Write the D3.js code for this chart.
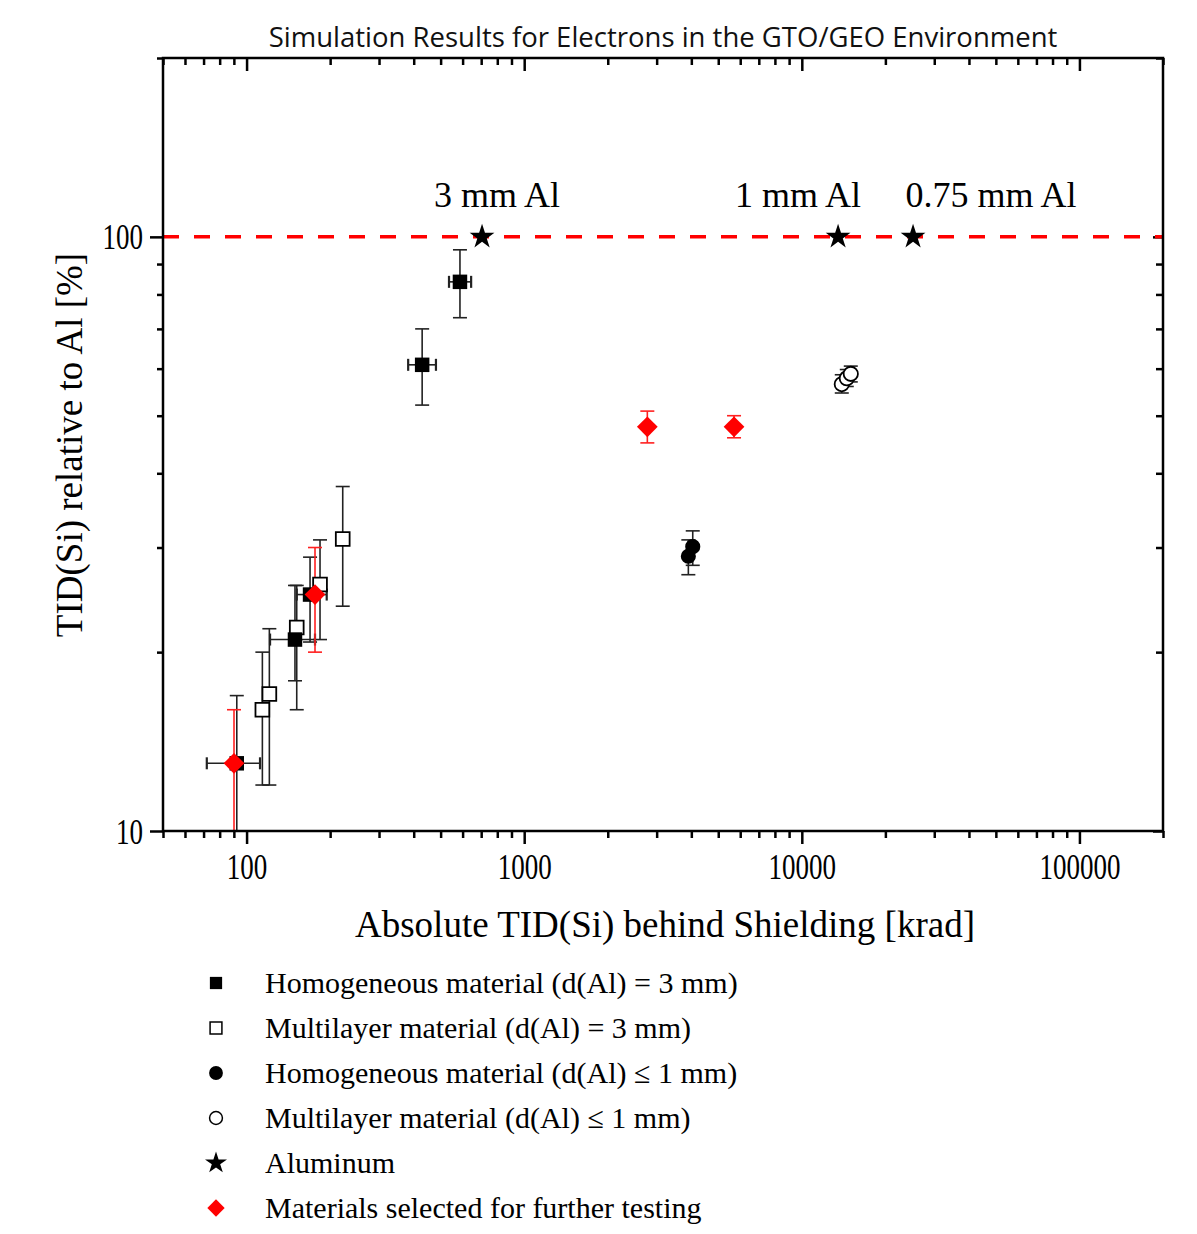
<!DOCTYPE html>
<html>
<head>
<meta charset="utf-8">
<script src="https://cdn.jsdelivr.net/npm/d3@7"></script>
<style>
  body { margin: 0; background: #fff; }
</style>
</head>
<body>
<script>
// Data (x = absolute TID [krad], y = relative TID [%])
var homogeneous3 = [
  {x: 587, y: 84.0, xlo: 536, xhi: 644, ylo: 73.1, yhi: 95.1},
  {x: 429, y: 60.9, xlo: 382, xhi: 481, ylo: 52.1, yhi: 70.0},
  {x: 149.4, y: 21.0, xlo: 121.5, xhi: 176.4, ylo: 17.9, yhi: 25.9},
  {x: 169.3, y: 25.0, xlo: 151.6, xhi: 194.4, ylo: 20.8, yhi: 28.9},
  {x: 92.2, y: 13.0, xlo: 71.9, xhi: 111.8, ylo: 9, yhi: 16.9}
];
var multilayer3 = [
  {x: 114, y: 16.0, ylo: 11.95, yhi: 20.0},
  {x: 120.8, y: 17.0, ylo: 11.95, yhi: 21.9},
  {x: 151.6, y: 22.0, ylo: 16.0, yhi: 25.9},
  {x: 183.9, y: 26.0, ylo: 21.0, yhi: 30.9},
  {x: 222, y: 31.0, ylo: 23.9, yhi: 38.0}
];
var homogeneous1 = [
  {x: 4047, y: 30.1, ylo: 28.0, yhi: 32.0},
  {x: 3902, y: 29.0, ylo: 27.0, yhi: 30.9}
];
var multilayer1 = [
  {x: 13930, y: 56.5, ylo: 54.6, yhi: 58.6},
  {x: 14520, y: 57.8, ylo: 56.0, yhi: 59.8},
  {x: 15010, y: 58.8, ylo: 57.0, yhi: 60.6}
];
var aluminum = [
  {x: 705, y: 100, label: "3 mm Al"},
  {x: 13510, y: 100, label: "1 mm Al"},
  {x: 25160, y: 100, label: "0.75 mm Al"}
];
var selected = [
  {x: 90.1, y: 13.0, ylo: 9, yhi: 16.0},
  {x: 176.4, y: 25.0, ylo: 20.0, yhi: 30.0},
  {x: 2777, y: 47.9, ylo: 45.0, yhi: 50.9},
  {x: 5700, y: 47.9, ylo: 45.9, yhi: 50.0}
];
var legendLabels = [
  "Homogeneous material (d(Al) = 3 mm)",
  "Multilayer material (d(Al) = 3 mm)",
  "Homogeneous material (d(Al) \u2264 1 mm)",
  "Multilayer material (d(Al) \u2264 1 mm)",
  "Aluminum",
  "Materials selected for further testing"
];
var xDomain = [50, 200000];
var yDomain = [10, 200];
var xMajor = [100, 1000, 10000, 100000];
var yMajor = [10, 100];

var serif = "'Liberation Serif', 'Times New Roman', serif";

var svg = d3.select("body")
            .append("svg")
            .attr("width", 1197)
            .attr("height", 1234);

var margin = {top: 58, left: 163},
    width = 1000,
    height = 773;

var x = d3.scaleLog().domain(xDomain).range([0, width]);
var y = d3.scaleLog().domain(yDomain).range([height, 0]);

var g = svg.append("g").attr("transform", "translate(" + margin.left + "," + margin.top + ")");

function isMajor(list) {
  return function(d) { return list.some(function(m) { return Math.abs(m - d) < 1e-6 * m; }); };
}
var xIsMajor = isMajor(xMajor), yIsMajor = isMajor(yMajor);

// Axes
var axisB = g.append("g")
  .attr("transform", "translate(0," + height + ")")
  .call(d3.axisBottom(x).tickSizeInner(7).tickSizeOuter(0)
    .tickFormat(function(d) { return xIsMajor(d) ? d3.format("d")(d) : ""; }));
axisB.selectAll(".tick line").filter(xIsMajor).attr("y2", 13);
// tall, narrow tick digits like the original
axisB.selectAll(".tick text")
  .attr("y", 0).attr("dy", null)
  .attr("transform", "translate(0,48) scale(1,1.35)");

var axisT = g.append("g")
  .call(d3.axisTop(x).tickSizeInner(-7).tickSizeOuter(0).tickFormat(""));
axisT.selectAll(".tick line").filter(xIsMajor).attr("y2", 13);

var axisL = g.append("g")
  .call(d3.axisLeft(y).tickSizeInner(6).tickSizeOuter(0)
    .tickFormat(function(d) { return yIsMajor(d) ? d3.format("d")(d) : ""; }));
axisL.selectAll(".tick line").filter(yIsMajor).attr("x2", -13);
axisL.selectAll(".tick text")
  .attr("x", 0).attr("dy", null)
  .attr("transform", "translate(-20,12) scale(1,1.35)");

var axisR = g.append("g")
  .attr("transform", "translate(" + width + ",0)")
  .call(d3.axisRight(y).tickSizeInner(-7).tickSizeOuter(0).tickFormat(""));
axisR.selectAll(".tick line").filter(yIsMajor).attr("x2", -10);

g.selectAll(".domain").remove();
g.selectAll(".tick line").attr("stroke", "#000").attr("stroke-width", 2.5);
g.selectAll(".tick text")
  .attr("font-family", serif)
  .style("font-family", serif)
  .style("font-size", "27px")
  .attr("fill", "#000");

// Reference line at 100 %
g.append("line")
  .attr("x1", 0).attr("x2", width)
  .attr("y1", y(100)).attr("y2", y(100))
  .attr("stroke", "#ff0000")
  .attr("stroke-width", 3.5)
  .attr("stroke-dasharray", "16,15");

// Error bars
function errorBars(data, color) {
  var eb = g.append("g").attr("stroke", color).attr("stroke-width", 1.6).attr("fill", "none");
  data.forEach(function(d) {
    if (d.ylo !== undefined) {
      var ylo = y(Math.max(d.ylo, yDomain[0])), yhi = y(d.yhi);
      eb.append("line").attr("x1", x(d.x)).attr("x2", x(d.x)).attr("y1", ylo).attr("y2", yhi);
      eb.append("line").attr("x1", x(d.x) - 7).attr("x2", x(d.x) + 7).attr("y1", yhi).attr("y2", yhi);
      if (d.ylo >= yDomain[0])
        eb.append("line").attr("x1", x(d.x) - 7).attr("x2", x(d.x) + 7).attr("y1", ylo).attr("y2", ylo);
    }
    if (d.xlo !== undefined) {
      eb.append("line").attr("x1", x(d.xlo)).attr("x2", x(d.xhi)).attr("y1", y(d.y)).attr("y2", y(d.y));
      [d.xlo, d.xhi].forEach(function(v) {
        eb.append("line").attr("x1", x(v)).attr("x2", x(v)).attr("y1", y(d.y) - 6).attr("y2", y(d.y) + 6)
          .attr("stroke-width", 2.2);
      });
    }
  });
}
errorBars(multilayer3, "#222");
errorBars(homogeneous3, "#222");
errorBars(homogeneous1, "#222");
errorBars(multilayer1, "#222");
errorBars(selected, "#ff2020");

// Markers
function markers(data, type, size, fill, stroke, rotate) {
  g.append("g").selectAll("path")
    .data(data)
    .enter()
    .append("path")
    .attr("d", d3.symbol().type(type).size(size))
    .attr("transform", function(d) {
      return "translate(" + x(d.x) + "," + y(d.y) + ")" + (rotate ? " rotate(45)" : "");
    })
    .attr("fill", fill)
    .attr("stroke", stroke)
    .attr("stroke-width", 1.8);
}
markers(multilayer3, d3.symbolSquare, 190, "#fff", "#000");
markers(homogeneous3, d3.symbolSquare, 210, "#000", "none");
markers(homogeneous1, d3.symbolCircle, 180, "#000", "none");
markers(multilayer1, d3.symbolCircle, 160, "#fff", "#000");
markers(aluminum, d3.symbolStar, 190, "#000", "none");
markers(selected, d3.symbolSquare, 215, "#ff0000", "none", true);

// Labels above the aluminium stars
g.selectAll(".al-label")
  .data(aluminum)
  .enter()
  .append("text")
  .attr("class", "al-label")
  .attr("x", function(d, i) { return x(d.x) + [15, -40, 78][i]; })
  .attr("y", y(100) - 30)
  .attr("text-anchor", "middle")
  .style("font-family", serif)
  .style("font-size", "36px")
  .text(function(d) { return d.label; });

// Frame
g.append("rect")
  .attr("width", width).attr("height", height)
  .attr("fill", "none").attr("stroke", "#000").attr("stroke-width", 2.5);

// Title
svg.append("text")
  .attr("x", 663)
  .attr("y", 47)
  .attr("text-anchor", "middle")
  .style("font-family", "'Open Sans', 'Noto Sans', sans-serif")
  .style("font-size", "27.5px")
  .attr("fill", "#111")
  .text("Simulation Results for Electrons in the GTO/GEO Environment");

// x-axis label
svg.append("text")
  .attr("x", 665)
  .attr("y", 937)
  .attr("text-anchor", "middle")
  .style("font-family", serif)
  .style("font-size", "37px")
  .text("Absolute TID(Si) behind Shielding [krad]");

// y-axis label
svg.append("text")
  .attr("transform", "rotate(-90)")
  .attr("x", -445)
  .attr("y", 82)
  .attr("text-anchor", "middle")
  .style("font-family", serif)
  .style("font-size", "37px")
  .text("TID(Si) relative to Al [%]");

// Legend
var legendSymbols = [
  {type: d3.symbolSquare, size: 150, fill: "#000", stroke: "none"},
  {type: d3.symbolSquare, size: 140, fill: "#fff", stroke: "#000"},
  {type: d3.symbolCircle, size: 150, fill: "#000", stroke: "none"},
  {type: d3.symbolCircle, size: 130, fill: "#fff", stroke: "#000"},
  {type: d3.symbolStar, size: 150, fill: "#000", stroke: "none"},
  {type: d3.symbolSquare, size: 150, fill: "#ff0000", stroke: "none", rotate: true}
];
var legend = svg.append("g").attr("transform", "translate(0,983)");
legendLabels.forEach(function(label, i) {
  var s = legendSymbols[i];
  legend.append("path")
    .attr("d", d3.symbol().type(s.type).size(s.size))
    .attr("transform", "translate(216," + (i * 45) + ")" + (s.rotate ? " rotate(45)" : ""))
    .attr("fill", s.fill)
    .attr("stroke", s.stroke)
    .attr("stroke-width", 1.5);
  legend.append("text")
    .attr("x", 265)
    .attr("y", i * 45 + 10)
    .style("font-family", serif)
    .style("font-size", "30px")
    .text(label);
});
</script>
</body>
</html>
